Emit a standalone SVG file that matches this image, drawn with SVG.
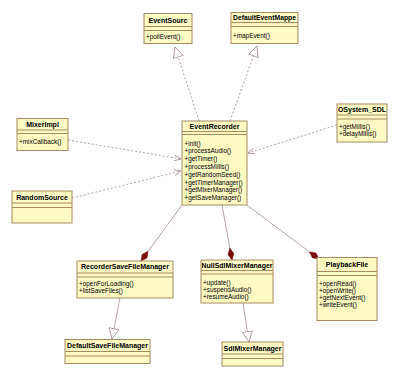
<svg xmlns="http://www.w3.org/2000/svg" width="400" height="378" viewBox="0 0 400 378">
<style>
.box{fill:#fff9c4;stroke:#a88a60;stroke-width:1}
.sep{stroke:#a88a60;stroke-width:1}
.t{font-family:"Liberation Sans",Arial,sans-serif;font-size:7px;font-weight:bold;fill:#000;text-anchor:middle}
.m{font-family:"Liberation Sans",Arial,sans-serif;font-size:6.4px;fill:#000}
.c{stroke:#a48a92;stroke-width:0.8;fill:none}
.d{stroke-dasharray:2,2}
</style>
<defs>
<marker id="tri" markerUnits="userSpaceOnUse" markerWidth="14" markerHeight="12" refX="11" refY="5.5" orient="auto">
<path d="M0.5,0.5 L11,5.5 L0.5,10.5 z" fill="#fff" stroke="#a48a92" stroke-width="0.8"/>
</marker>
<marker id="open" markerUnits="userSpaceOnUse" markerWidth="10" markerHeight="8" refX="7" refY="3.5" orient="auto">
<path d="M0,0.5 L7,3.5 L0,6.5" fill="none" stroke="#a48a92" stroke-width="0.8"/>
</marker>
<marker id="dia" markerUnits="userSpaceOnUse" markerWidth="14" markerHeight="8" refX="12" refY="3.5" orient="auto">
<path d="M0,3.5 L6,0.5 L12,3.5 L6,6.5 z" fill="#7a0a0a" stroke="#7a0a0a" stroke-width="0.5"/>
</marker>
</defs>

<g id="connectors">
<line class="c d" x1="199" y1="121" x2="175" y2="47" marker-end="url(#tri)"/>
<line class="c d" x1="230" y1="121" x2="257" y2="46" marker-end="url(#tri)"/>
<line class="c d" x1="68" y1="140" x2="181" y2="159" marker-end="url(#open)"/>
<line class="c d" x1="72" y1="198" x2="181" y2="171" marker-end="url(#open)"/>
<line class="c d" x1="337" y1="125" x2="248" y2="153" marker-end="url(#open)"/>
<line class="c" x1="182" y1="205" x2="141" y2="261" marker-end="url(#dia)"/>
<line class="c" x1="222" y1="205" x2="232" y2="260" marker-end="url(#dia)"/>
<line class="c" x1="244" y1="203" x2="319" y2="259" marker-end="url(#dia)"/>
<line class="c" x1="120" y1="298" x2="112" y2="339" marker-end="url(#tri)"/>
<line class="c" x1="243" y1="303" x2="249" y2="342" marker-end="url(#tri)"/>
</g>

<g id="EventSourc">
<rect class="box" x="144" y="13.5" width="48" height="30"/>
<line class="sep" x1="144" y1="26.5" x2="192" y2="26.5"/>
<line class="sep" x1="144" y1="30.5" x2="192" y2="30.5"/>
<text class="t" x="168" y="22.5">EventSourc</text>
<text class="m" x="146" y="39">+pollEvent()</text>
</g>

<g id="DefaultEventMappe">
<rect class="box" x="231" y="12.5" width="67" height="31"/>
<line class="sep" x1="231" y1="22.5" x2="298" y2="22.5"/>
<line class="sep" x1="231" y1="26.5" x2="298" y2="26.5"/>
<text class="t" x="264.5" y="20" textLength="63" lengthAdjust="spacingAndGlyphs">DefaultEventMappe</text>
<text class="m" x="233" y="37.5">+mapEvent()</text>
</g>

<g id="MixerImpl">
<rect class="box" x="17" y="118.5" width="51" height="32"/>
<line class="sep" x1="17" y1="130" x2="68" y2="130"/>
<line class="sep" x1="17" y1="133.5" x2="68" y2="133.5"/>
<text class="t" x="42.5" y="126.5">MixerImpl</text>
<text class="m" x="19" y="144">+mixCallback()</text>
</g>

<g id="RandomSource">
<rect class="box" x="12" y="191" width="60" height="32"/>
<line class="sep" x1="12" y1="203" x2="72" y2="203"/>
<line class="sep" x1="12" y1="207.5" x2="72" y2="207.5"/>
<text class="t" x="42" y="199.5">RandomSource</text>
</g>

<g id="EventRecorder">
<rect class="box" x="182" y="121" width="65" height="84"/>
<line class="sep" x1="182" y1="131.5" x2="247" y2="131.5"/>
<line class="sep" x1="182" y1="134.5" x2="247" y2="134.5"/>
<text class="t" x="214.5" y="129">EventRecorder</text>
<text class="m" x="184.5" y="145.5">+init()</text>
<text class="m" x="184.5" y="153.3">+processAudio()</text>
<text class="m" x="184.5" y="161.1">+getTimer()</text>
<text class="m" x="184.5" y="168.9">+processMillis()</text>
<text class="m" x="184.5" y="176.7">+getRandomSeed()</text>
<text class="m" x="184.5" y="184.5">+getTimerManager()</text>
<text class="m" x="184.5" y="192.3">+getMixerManager()</text>
<text class="m" x="184.5" y="200.1">+getSaveManager()</text>
</g>

<g id="OSystem_SDL">
<rect class="box" x="337" y="104" width="50" height="38"/>
<line class="sep" x1="337" y1="115" x2="387" y2="115"/>
<line class="sep" x1="337" y1="119" x2="387" y2="119"/>
<text class="t" x="362" y="111.5">OSystem_SDL</text>
<text class="m" x="339" y="129">+getMillis()</text>
<text class="m" x="339" y="135.5">+delayMillis()</text>
</g>

<g id="RecorderSaveFileManager">
<rect class="box" x="77" y="261" width="96" height="37"/>
<line class="sep" x1="77" y1="273" x2="173" y2="273"/>
<line class="sep" x1="77" y1="277" x2="173" y2="277"/>
<text class="t" x="125" y="269">RecorderSaveFileManager</text>
<text class="m" x="79" y="285.5">+openForLoading()</text>
<text class="m" x="79" y="293">+listSaveFiles()</text>
</g>

<g id="NullSdlMixerManager">
<rect class="box" x="201" y="260" width="72" height="43"/>
<line class="sep" x1="201" y1="270.5" x2="273" y2="270.5"/>
<line class="sep" x1="201" y1="274" x2="273" y2="274"/>
<text class="t" x="237" y="267.5">NullSdlMixerManager</text>
<text class="m" x="203" y="284.5">+update()</text>
<text class="m" x="203" y="291.5">+suspendAudio()</text>
<text class="m" x="203" y="298.5">+resumeAudio()</text>
</g>

<g id="PlaybackFile">
<rect class="box" x="317" y="257.5" width="60" height="63"/>
<line class="sep" x1="317" y1="271.5" x2="377" y2="271.5"/>
<line class="sep" x1="317" y1="275.5" x2="377" y2="275.5"/>
<text class="t" x="347" y="267">PlaybackFile</text>
<text class="m" x="319" y="285.5">+openRead()</text>
<text class="m" x="319" y="292.5">+openWrite()</text>
<text class="m" x="319" y="299.5">+getNextEvent()</text>
<text class="m" x="319" y="306.5">+writeEvent()</text>
</g>

<g id="DefaultSaveFileManager">
<rect class="box" x="65" y="339.5" width="85" height="24"/>
<line class="sep" x1="65" y1="351.5" x2="150" y2="351.5"/>
<line class="sep" x1="65" y1="356" x2="150" y2="356"/>
<text class="t" x="107.5" y="347.5">DefaultSaveFileManager</text>
</g>

<g id="SdlMixerManager">
<rect class="box" x="222" y="342" width="61" height="24"/>
<line class="sep" x1="222" y1="354" x2="283" y2="354"/>
<line class="sep" x1="222" y1="358.5" x2="283" y2="358.5"/>
<text class="t" x="252.5" y="350.5">SdlMixerManager</text>
</g>
</svg>
